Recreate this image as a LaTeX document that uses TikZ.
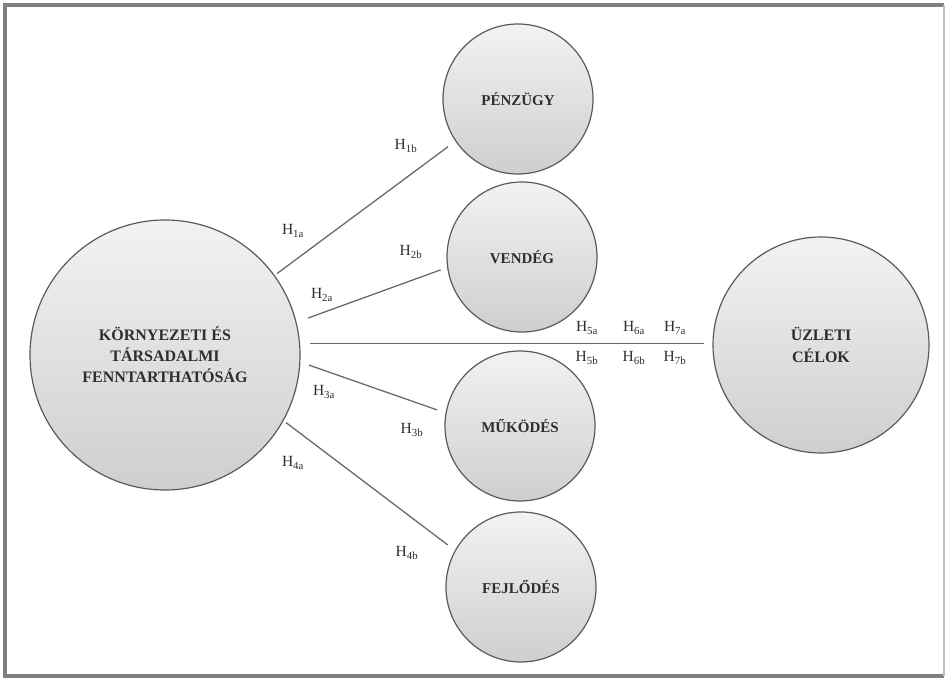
\documentclass[tikz,border=0pt]{standalone}
\usepackage{fontspec}
\setmainfont{Liberation Serif}
\definecolor{rimgray}{HTML}{5A5A5A}
\definecolor{linegray}{HTML}{6A6A6A}
\definecolor{framegray}{HTML}{808080}
\definecolor{textgray}{HTML}{2E2E2E}
\begin{document}
\begin{tikzpicture}[
          x=1pt, y=-1pt,
          bubble/.style={circle, draw=rimgray, line width=1.2pt, inner sep=0pt,
            top color=gray!10, bottom color=gray!38, text=textgray,
            font=\fontsize{15}{21}\selectfont\bfseries, align=center},
          hlabel/.style={text=textgray, font=\fontsize{15.5}{17}\selectfont, inner sep=0pt},
          link/.style={draw=linegray, line width=1.3pt}
        ]
        \useasboundingbox (0,0) rectangle (946,679);
        % frame
        \draw[framegray, line width=4pt] (944,5) -- (5,5) -- (5,676) -- (944,676);
        \draw[gray!50, line width=1.5pt] (944,5) -- (944,676);
        % bubbles
        \node[bubble, minimum size=270pt, font=\fontsize{16}{21}\selectfont\bfseries] (big) at (165,355)
          {KÖRNYEZETI ÉS\\TÁRSADALMI\\FENNTARTHATÓSÁG};
        \node[bubble, minimum size=150pt] (penzugy) at (518,99) {PÉNZÜGY};
        \node[bubble, minimum size=150pt] (vendeg) at (522,257) {VENDÉG};
        \node[bubble, minimum size=150pt] (mukodes) at (520,426) {MŰKÖDÉS};
        \node[bubble, minimum size=150pt] (fejlodes) at (521,587) {FEJLŐDÉS};
        \node[bubble, minimum size=216pt, font=\fontsize{16}{22}\selectfont\bfseries] (uzleti) at (821,345) {ÜZLETI\\CÉLOK};
        % links
        \draw[link, shorten <=3pt, shorten >=9pt] (big.36.5) -- (penzugy.214.8);
        \draw[link, shorten <=12pt, shorten >=7pt] (big.14) -- (vendeg.188.4);
        \draw[link, shorten <=10pt, shorten >=8pt] (big.5) -- (big.5 -| uzleti.west);
        \draw[link, shorten <=9pt, shorten >=9pt] (big.-3.2) -- (mukodes.170.4);
        \draw[link, shorten <=3pt, shorten >=9pt] (big.-29.5) -- (fejlodes.151.9);
        % labels
        \node[hlabel] (h1a) at (293,231) {H\textsubscript{1a}};
        \node[hlabel] (h1b) at (406,146) {H\textsubscript{1b}};
        \node[hlabel] (h2a) at (322,295) {H\textsubscript{2a}};
        \node[hlabel] (h2b) at (411,252) {H\textsubscript{2b}};
        \node[hlabel] (h3a) at (324,392) {H\textsubscript{3a}};
        \node[hlabel] (h3b) at (412,430) {H\textsubscript{3b}};
        \node[hlabel] (h4a) at (293,463) {H\textsubscript{4a}};
        \node[hlabel] (h4b) at (407,553) {H\textsubscript{4b}};
        \node[hlabel] (h5a) at (587,328) {H\textsubscript{5a}};
        \node[hlabel] (h6a) at (634,328) {H\textsubscript{6a}};
        \node[hlabel] (h7a) at (675,328) {H\textsubscript{7a}};
        \node[hlabel] (h5b) at (587,358) {H\textsubscript{5b}};
        \node[hlabel] (h6b) at (634,358) {H\textsubscript{6b}};
        \node[hlabel] (h7b) at (675,358) {H\textsubscript{7b}};
        \end{tikzpicture}
\end{document}
